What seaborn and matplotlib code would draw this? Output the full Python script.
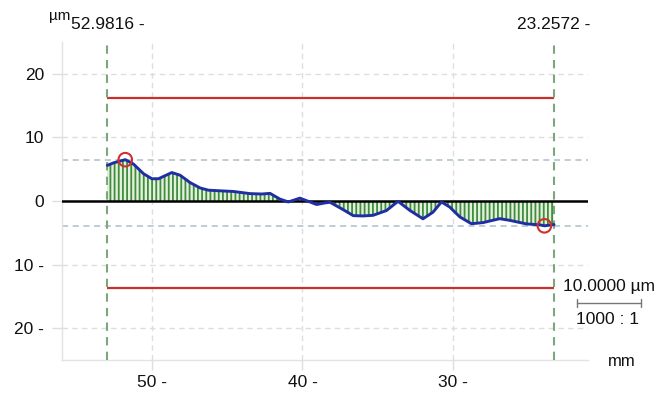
import matplotlib
matplotlib.use("Agg")
import matplotlib.pyplot as plt
from matplotlib.lines import Line2D
import numpy as np
import pandas as pd
import seaborn as sns

# Profile deviation along the measured length (position in mm, deviation in µm)
position_mm = [52.98, 52.57, 51.79, 51.24, 50.58, 50.02, 49.58, 48.69, 48.14,
               47.48, 46.81, 46.26, 45.48, 44.60, 43.49, 42.70, 42.16, 41.50,
               40.94, 40.17, 39.50, 39.06, 38.50, 38.17, 37.29, 36.62, 35.98,
               35.30, 34.41, 33.64, 32.86, 31.98, 31.31, 30.75, 30.20, 29.53,
               28.76, 27.99, 26.88, 26.21, 25.10, 24.22, 23.90, 23.26]
deviation_um = [5.6, 6.0, 6.5, 5.8, 4.3, 3.5, 3.5, 4.47, 4.05,
                2.9, 2.05, 1.7, 1.6, 1.5, 1.16, 1.1, 1.2, 0.3,
                -0.15, 0.45, -0.15, -0.55, -0.3, -0.2, -1.36, -2.3, -2.35,
                -2.25, -1.5, -0.05, -1.47, -2.8, -1.75, -0.15, -0.95, -2.5,
                -3.57, -3.4, -2.78, -3.04, -3.6, -3.75, -3.9, -3.7]

# Evaluation range and limits
range_start = 52.9816
range_end = 23.2572
upper_limit = 16.2
lower_limit = -13.7
peak_pos, peak_val = 51.79, 6.5
valley_pos, valley_val = 23.90, -3.9

# Axis ticks and labels
x_ticks = [50, 40, 30]
x_tick_labels = ["50 -", "40 -", "30 -"]
y_ticks = [20, 10, 0, -10, -20]
y_tick_labels = ["20", "10", "0", "10 -", "20 -"]

sns.set_theme(style="white")
plt.rcParams["font.family"] = ["Liberation Sans", "DejaVu Sans"]
plt.rcParams["hatch.linewidth"] = 1.3

fig = plt.figure(figsize=(6.72, 3.96), dpi=100)
ax = fig.add_axes([62 / 672, 36 / 396, 526 / 672, 318 / 396])

grid_c = "#dedede"
ax.set_xlim(56, 21)
ax.set_ylim(-25, 25)

# light dashed grid
for xv in x_ticks:
    ax.axvline(xv, color=grid_c, lw=1, ls=(0, (4, 3)), zorder=0)
for yv in [20, 10, -10, -20]:
    ax.axhline(yv, color=grid_c, lw=1, ls=(0, (4, 3)), zorder=0)

# extreme value reference lines
ax.axhline(peak_val, color="#aebfc8", lw=1.1, ls=(0, (4, 3)), zorder=1)
ax.axhline(valley_val, color="#aebfc8", lw=1.1, ls=(0, (4, 3)), zorder=1)

df = pd.DataFrame({"pos": position_mm, "dev": deviation_um})

# hatched area between profile and zero line
ax.fill_between(df["pos"], df["dev"], 0, facecolor="#e4f1da",
                edgecolor="#3f8c3f", hatch="||||", linewidth=0, zorder=2)

# zero line
ax.axhline(0, color="black", lw=1.8, zorder=3)

# profile curve
sns.lineplot(data=df, x="pos", y="dev", sort=False, color="#1f2ea3",
             lw=2.1, ax=ax, zorder=4)

# tolerance limits over the evaluation range
ax.hlines([upper_limit, lower_limit], range_start, range_end,
          color="#c8312b", lw=1.6, zorder=3)

# evaluation range boundaries
for xv in (range_start, range_end):
    ax.axvline(xv, color="#7fa57f", lw=1.5, ls=(0, (4, 3)), zorder=3)

# extreme markers
sns.scatterplot(x=[peak_pos, valley_pos], y=[peak_val, valley_val], ax=ax,
                marker="o", s=95, facecolors="none", edgecolor="#d0302c",
                linewidth=1.5, zorder=5)

ax.set_xticks(x_ticks)
ax.set_xticklabels(x_tick_labels)
ax.set_yticks(y_ticks)
ax.set_yticklabels(y_tick_labels)
ax.set_xlabel("")
ax.set_ylabel("")
ax.tick_params(axis="both", length=7, width=1, color=grid_c,
               labelsize=12.5, labelcolor="#111111")
ax.tick_params(axis="x", pad=4)
ax.tick_params(axis="y", pad=6)
ax.tick_params(bottom=True, left=True)

for side in ("top", "right"):
    ax.spines[side].set_visible(False)
for side in ("left", "bottom"):
    ax.spines[side].set_color("#e2e2e2")
    ax.spines[side].set_linewidth(1)

# range boundary labels above the plot
trans = ax.get_xaxis_transform()
for xv in (range_start, range_end):
    ax.text(xv, 1.031, f"{xv:.4f} -", transform=trans, ha="center",
            va="bottom", fontsize=12.5, color="#111111")

# unit labels
fig.text(49 / 672, 1 - 20 / 396, "µm", ha="left", va="baseline",
         fontsize=11, color="#111111")
fig.text(622 / 672, 1 - 362 / 396, "mm", ha="center", va="center",
         fontsize=12, color="#111111")

# scale bar
fig.text(609 / 672, 1 - 287 / 396, "10.0000 µm", ha="center", va="center",
         fontsize=12.5, color="#111111")
bar_y = 1 - 303 / 396
x0, x1 = 577 / 672, 641 / 672
fig.add_artist(Line2D([x0, x1], [bar_y, bar_y], color="#777777", lw=1,
                      transform=fig.transFigure))
for xe in (x0, x1):
    fig.add_artist(Line2D([xe, xe], [1 - 299 / 396, 1 - 307 / 396],
                          color="#777777", lw=1, transform=fig.transFigure))
fig.text(608 / 672, 1 - 320 / 396, "1000 : 1", ha="center", va="center",
         fontsize=12.5, color="#111111")

fig.savefig("out.png", dpi=100)
